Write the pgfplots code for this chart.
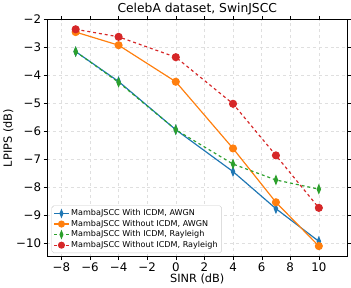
\documentclass[border=0pt]{standalone}
\usepackage{pgfplots}
\pgfplotsset{compat=1.18}
\usepackage{fontspec}
\setmainfont{DejaVu Sans}
\definecolor{tblue}{HTML}{1F77B4}
\definecolor{torange}{HTML}{FF7F0E}
\definecolor{tgreen}{HTML}{2CA02C}
\definecolor{tred}{HTML}{D62728}
\begin{document}
\begin{tikzpicture}
\begin{axis}[
  scale only axis, width=304bp, height=240bp,
  xmin=-9, xmax=12, ymin=-10.5, ymax=-2,
  xtick={-8,-6,-4,-2,0,2,4,6,8,10},
  xticklabels={−8,−6,−4,−2,0,2,4,6,8,10},
  ytick={-10,-9,-8,-7,-6,-5,-4,-3,-2},
  yticklabels={−10,−9,−8,−7,−6,−5,−4,−3,−2},
  tick label style={font=\fontsize{12}{14}\selectfont},
  label style={font=\fontsize{11.5}{14}\selectfont},
  title style={font=\fontsize{12.5}{14}\selectfont, yshift=-5bp},
  title={CelebA dataset, SwinJSCC},
  xlabel={SINR (dB)}, ylabel={LPIPS (dB)},
  xlabel style={yshift=4bp},
  ylabel style={yshift=-4bp},
  xticklabel style={yshift=1bp},
  yticklabel style={xshift=1bp},
  grid=major, grid style={gray!25, dashed},
  tick align=outside, major tick length=3.5bp,
  tick style={black},
  legend style={font=\fontsize{8.2}{10}\selectfont, at={(0.015,0.015)}, anchor=south west, draw=gray!40, rounded corners=2pt, row sep=-1pt, inner sep=2pt},
  legend image post style={scale=0.85},
  legend cell align=left,
  every axis plot/.append style={line width=1.2pt},
]
\addplot[tblue, mark=diamond*, mark size=4pt, mark options={xscale=0.55, solid}] coordinates {(-7,-3.15) (-4,-4.22) (0,-5.95) (4,-7.45) (7,-8.78) (10,-9.95)};
\addlegendentry{MambaJSCC With ICDM, AWGN}
\addplot[torange, mark=*, mark size=3.5pt, mark options={solid}] coordinates {(-7,-2.45) (-4,-2.92) (0,-4.23) (4,-6.62) (7,-8.55) (10,-10.12)};
\addlegendentry{MambaJSCC Without ICDM, AWGN}
\addplot[tgreen, dashed, mark=diamond*, mark size=4pt, mark options={xscale=0.55, solid}] coordinates {(-7,-3.15) (-4,-4.25) (0,-5.95) (4,-7.18) (7,-7.75) (10,-8.08)};
\addlegendentry{MambaJSCC With ICDM, Rayleigh}
\addplot[tred, dashed, mark=*, mark size=3.5pt, mark options={solid}] coordinates {(-7,-2.35) (-4,-2.62) (0,-3.35) (4,-5.02) (7,-6.87) (10,-8.75)};
\addlegendentry{MambaJSCC Without ICDM, Rayleigh}
\end{axis}
\end{tikzpicture}
\end{document}
